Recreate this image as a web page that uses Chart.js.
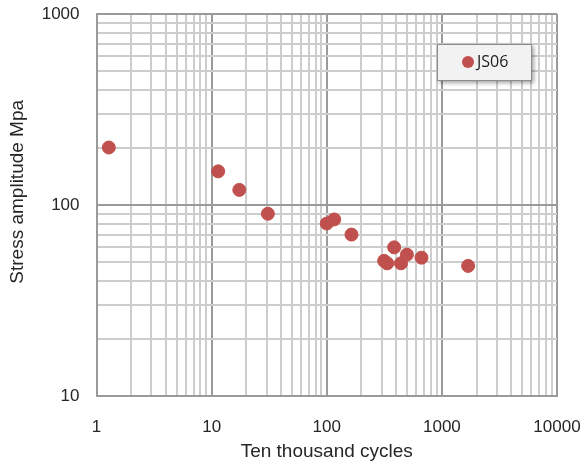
<!DOCTYPE html>
<html>
<head>
<meta charset="utf-8">
<script src="https://cdn.jsdelivr.net/npm/chart.js@4/dist/chart.umd.min.js"></script>
<style>
  html, body { margin: 0; padding: 0; background: #fff; }
  #chart { display: block; }
</style>
</head>
<body>
<canvas id="chart" width="582" height="464"></canvas>
<script>
// data
const cycles = [1.28, 11.4, 17.4, 30.8, 100, 116, 164, 315, 335, 385, 441, 497, 665, 1690];
const stress = [200, 150, 120, 90, 80, 84, 70, 51, 49.5, 60, 49.5, 55, 53, 48];
const seriesName = 'JS06';

// axis decades (labelled ticks) and the minor grid steps inside each decade
const xDecades = [1, 10, 100, 1000, 10000];
const yDecades = [10, 100, 1000];
const minorSteps = [2, 3, 4, 5, 6, 7, 8, 9];

(() => {
    const canvas = document.getElementById('chart');
    if (!canvas || !window.Chart) return;

    const gridValues = decades => {
        const out = [];
        decades.forEach((d, i) => {
            out.push(d);
            if (i < decades.length - 1) minorSteps.forEach(m => out.push(d * m));
        });
        return out;
    };

    const textColor = '#262626';
    const majorGrid = '#9a9a9a';
    const minorGrid = '#cdcdcd';

    // label overflow is handled by the layout padding instead
    const noOverflow = axis => {
        axis.paddingTop = 0;
        axis.paddingBottom = 0;
        axis.paddingLeft = 0;
        axis.paddingRight = 0;
    };

    const logAxis = (decades, title, extra) => Object.assign({
        type: 'logarithmic',
        min: decades[0],
        max: decades[decades.length - 1],
        afterBuildTicks: axis => {
            axis.ticks = gridValues(decades).map(v => ({ value: v }));
        },
        ticks: {
            autoSkip: false,
            maxRotation: 0,
            color: textColor,
            font: { family: 'Liberation Sans, Arial, sans-serif', size: 17 },
            callback: v => decades.includes(v) ? String(v) : ''
        },
        grid: {
            drawTicks: false,
            lineWidth: 2,
            color: c => (c.tick && decades.includes(c.tick.value)) ? majorGrid : minorGrid
        },
        border: { display: true, color: majorGrid, width: 2 },
        title: {
            display: true,
            text: title,
            color: textColor,
            font: { family: 'Liberation Sans, Arial, sans-serif', size: 19 }
        }
    }, extra);

    // legend box drawn inside the plot, like the spreadsheet one
    const boxLegend = {
        id: 'boxLegend',
        afterDraw(chart) {
            const ctx = chart.ctx;
            const ds = chart.data.datasets[0];
            const x = 437, y = 44, w = 95, h = 37;
            ctx.save();
            ctx.shadowColor = 'rgba(0,0,0,0.35)';
            ctx.shadowBlur = 4;
            ctx.shadowOffsetX = 2;
            ctx.shadowOffsetY = 2;
            ctx.fillStyle = '#f2f2f2';
            ctx.fillRect(x, y, w, h);
            ctx.shadowColor = 'transparent';
            ctx.strokeStyle = '#8c8c8c';
            ctx.lineWidth = 1;
            ctx.strokeRect(x + 0.5, y + 0.5, w - 1, h - 1);
            ctx.beginPath();
            ctx.arc(x + 31, y + 18, 6, 0, Math.PI * 2);
            ctx.fillStyle = ds.backgroundColor;
            ctx.fill();
            ctx.fillStyle = '#1a1a1a';
            ctx.font = '16px "Open Sans", sans-serif';
            ctx.textBaseline = 'middle';
            ctx.fillText(ds.label, x + 40, y + 18.5);
            ctx.restore();
        }
    };

    const config = {
        type: 'scatter',
        data: {
            datasets: [{
                label: seriesName,
                data: cycles.map((c, i) => ({ x: c, y: stress[i] })),
                backgroundColor: '#c0504d',
                borderColor: '#c0504d',
                pointRadius: 6.5,
                pointHoverRadius: 6.5
            }]
        },
        plugins: [boxLegend],
        options: {
            responsive: false,
            animation: false,
            layout: { padding: { top: 14, right: 25, left: 0, bottom: 0 } },
            plugins: {
                legend: { display: false },
                tooltip: { enabled: false }
            },
            scales: {
                x: logAxis(xDecades, 'Ten thousand cycles', {
                    afterFit: axis => { axis.height = 68; noOverflow(axis); }
                }),
                y: logAxis(yDecades, '\u00a0\u00a0\u00a0\u00a0\u00a0Stress amplitude Mpa', {
                    afterFit: axis => { axis.width = 96.5; noOverflow(axis); }
                })
            }
        }
    };
    config.options.scales.x.ticks.padding = 21;
    config.options.scales.x.title.padding = { top: 0, bottom: 1 };
    config.options.scales.y.ticks.padding = 17;
    config.options.scales.y.title.padding = { top: 6, bottom: 0 };

    new Chart(canvas, config);
})();
</script>
</body>
</html>
